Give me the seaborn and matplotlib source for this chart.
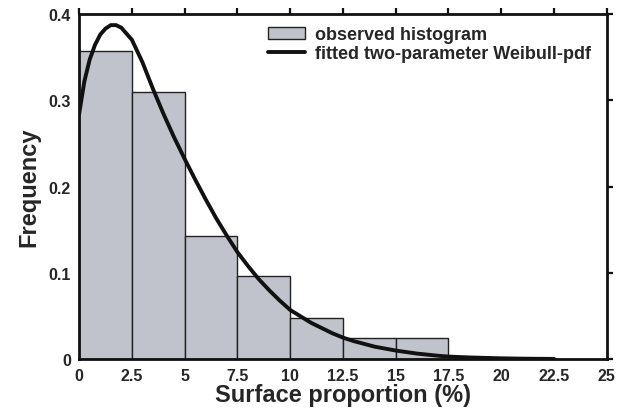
import matplotlib
matplotlib.use("Agg")
import matplotlib.pyplot as plt
import numpy as np
import pandas as pd
import seaborn as sns

# histogram bins (surface proportion, %) and observed frequencies
bin_edges = [0, 2.5, 5, 7.5, 10, 12.5, 15, 17.5]
observed_freq = [0.357, 0.310, 0.143, 0.096, 0.048, 0.024, 0.024]

# fitted Weibull pdf
curve_x = [0, 0.25, 0.5, 0.75, 1.0, 1.25, 1.5, 1.75, 2.0, 2.5, 3.0, 3.5, 4.0,
           4.5, 5.0, 5.5, 6.0, 6.5, 7.0, 7.5, 8.0, 8.5, 9.0, 9.5, 10, 11, 12,
           12.5, 13, 14, 15, 16, 17, 17.5, 18.5, 20, 21, 22.5]
curve_y = [0.284, 0.322, 0.347, 0.364, 0.376, 0.383, 0.387, 0.387, 0.384,
           0.370, 0.344, 0.313, 0.284, 0.257, 0.232, 0.208, 0.185, 0.163,
           0.143, 0.124, 0.108, 0.093, 0.080, 0.068, 0.057, 0.042, 0.030,
           0.025, 0.021, 0.0145, 0.010, 0.0065, 0.004, 0.003, 0.002, 0.001,
           0.0006, 0.0003]

x_ticks = [0, 2.5, 5, 7.5, 10, 12.5, 15, 17.5, 20, 22.5, 25]
x_tick_labels = ["0", "2.5", "5", "7.5", "10", "12.5", "15", "17.5", "20", "22.5", "25"]
y_ticks = [0, 0.1, 0.2, 0.3, 0.4]
y_tick_labels = ["0", "0.1", "0.2", "0.3", "0.4"]

sns.set_style("white")
plt.rcParams["font.family"] = ["Liberation Sans", "DejaVu Sans"]
plt.rcParams["font.weight"] = "bold"

centers = [(a + b) / 2 for a, b in zip(bin_edges[:-1], bin_edges[1:])]
hist_df = pd.DataFrame({"x": centers, "w": observed_freq})
curve_df = pd.DataFrame({"x": curve_x, "y": curve_y})

fig = plt.figure(figsize=(6.23, 4.14), dpi=100)
ax = fig.add_axes([0.127, 0.130, 0.847, 0.834])

sns.histplot(data=hist_df, x="x", weights="w", bins=bin_edges, ax=ax,
             color="#c0c3cc", edgecolor="#222222", linewidth=1.0, alpha=1,
             label="observed histogram")
sns.lineplot(data=curve_df, x="x", y="y", ax=ax, color="#111111",
             linewidth=2.8, label="fitted two-parameter Weibull-pdf")

ax.set_xlim(0, 25)
ax.set_ylim(0, 0.4)
ax.set_xticks(x_ticks)
ax.set_xticklabels(x_tick_labels)
ax.set_yticks(y_ticks)
ax.set_yticklabels(y_tick_labels)
ax.tick_params(axis="both", which="both", direction="out", length=4, width=1.6,
               labelsize=11.5, top=True, right=True, color="#111111", pad=2)
for lab in ax.get_xticklabels() + ax.get_yticklabels():
    lab.set_fontweight("bold")
for sp in ax.spines.values():
    sp.set_visible(True)
    sp.set_linewidth(2.0)
    sp.set_color("#111111")

ax.set_xlabel("Surface proportion (%)", fontsize=17, fontweight="bold", labelpad=0)
ax.set_ylabel("Frequency", fontsize=17, fontweight="bold", labelpad=6)

handles, labels = ax.get_legend_handles_labels()
order = [labels.index("observed histogram"), labels.index("fitted two-parameter Weibull-pdf")]
ax.legend([handles[i] for i in order], [labels[i] for i in order],
          loc="upper left", bbox_to_anchor=(0.345, 0.985), frameon=False,
          prop={"weight": "bold", "size": 13}, handlelength=2.0,
          handletextpad=0.6, labelspacing=0.1, borderaxespad=0.0)

fig.savefig("out.png", dpi=100)
